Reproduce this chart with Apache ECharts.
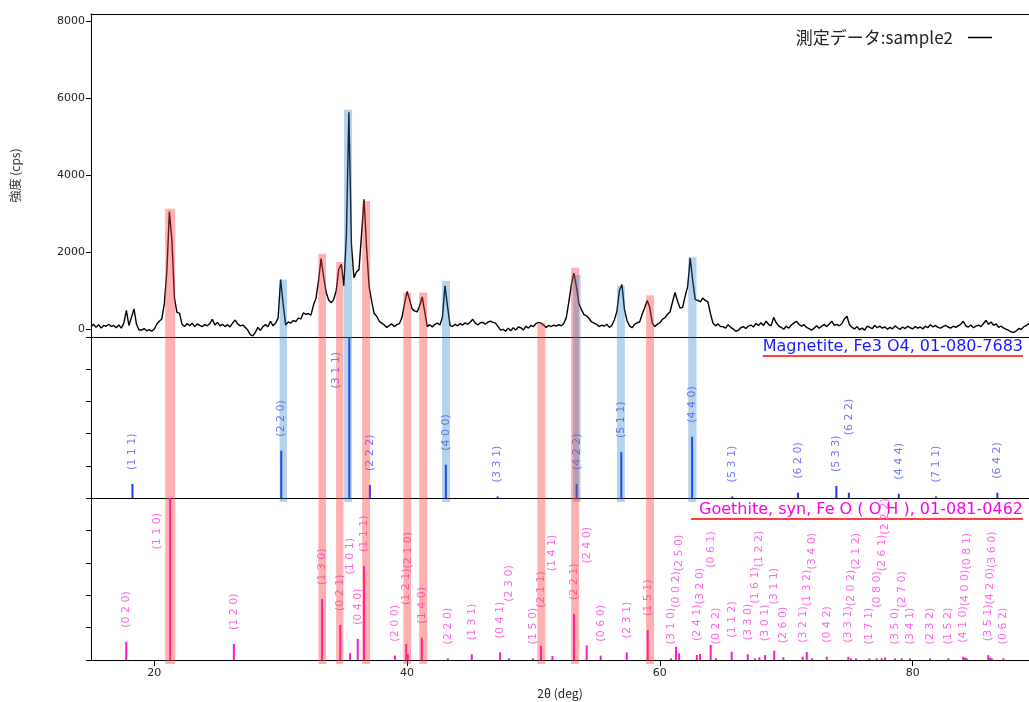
<!DOCTYPE html>
<html><head><meta charset="utf-8">
<script src="https://cdn.jsdelivr.net/npm/echarts@6/dist/echarts.min.js"></script>
<style>html,body{margin:0;padding:0;background:#fff}#c{width:1029px;height:702px}</style>
</head><body><div id="c"></div>
<script>
// ---------- DATA ----------
const scanStart = 15.0;   // 2θ of first point (deg)
const scanStep = 0.2;     // 2θ step (deg)
const intensity = [
  60,120,40,110,20,90,70,120,60,90,
  30,100,20,150,480,90,300,520,120,-30,
  -30,10,-50,-20,-60,-10,120,200,260,650,
  1500,3050,2300,800,430,410,120,60,140,80,
  150,60,130,90,60,110,80,140,250,100,
  170,80,120,60,110,50,150,230,130,80,
  100,40,-30,-150,-180,-90,40,-40,60,110,
  60,200,80,150,280,1280,650,100,180,150,
  220,190,280,260,420,380,400,360,620,800,
  1250,1830,1350,950,750,680,760,1000,1550,1680,
  1120,2400,5630,2200,1330,1480,1540,2450,3370,2100,
  1100,720,400,330,200,150,100,40,90,130,
  60,110,140,300,650,970,760,520,470,440,
  600,830,450,60,110,50,120,150,100,300,
  1120,600,90,60,120,80,140,100,160,120,
  180,250,150,100,160,170,120,180,200,170,
  150,60,-30,-10,-60,20,-50,30,-30,50,
  30,-30,70,20,90,60,140,170,150,100,
  40,90,60,100,70,110,80,140,300,700,
  1150,1450,1100,650,500,370,340,270,180,150,
  120,60,100,70,120,40,90,240,450,1000,
  1150,500,220,80,30,120,160,180,380,550,
  740,560,150,60,120,160,250,290,380,440,
  700,950,720,540,560,850,1100,1840,1250,760,
  740,700,800,740,700,400,150,80,130,60,
  60,20,110,40,0,-60,-40,30,60,10,
  70,100,50,140,90,160,90,200,120,80,
  300,160,80,40,-10,70,20,100,150,200,
  120,70,110,40,10,-30,20,80,20,70,
  110,60,130,200,90,120,80,140,260,330,
  110,40,0,60,-20,20,-30,70,40,10,
  90,30,70,20,50,-10,40,0,80,30,
  -10,50,10,70,30,0,60,20,50,0,
  70,30,110,50,90,40,20,60,90,50,
  20,70,40,80,120,200,80,50,100,30,
  70,100,60,140,220,120,180,90,130,40,
  70,20,-10,-40,-80,-90,-50,10,-10,60,
  90,140
];

const magnetite2Theta = [18.28,30.05,35.43,37.06,43.07,47.16,53.42,56.95,62.55,65.73,70.93,73.96,74.95,78.9,81.85,86.7];
const magnetiteI      = [8.7,29.4,100,8,20.7,1,8.7,28.6,38,1,3.3,7.5,3.3,2.7,1,3.3];
const magnetiteHkl    = ['111','220','311','222','400','331','422','511','440','531','620','533','622','444','711','642'];

const goethite2Theta = [17.79,21.26,26.3,33.28,34.72,35.5,36.1,36.6,39.05,39.93,40.06,41.17,43.23,45.12,47.36,48.07,49.95,50.6,51.5,53.21,54.21,55.32,57.38,59.04,
  60.88,61.28,61.52,62.92,63.18,64.02,64.44,65.68,66.95,67.53,67.87,68.32,69.05,69.77,71.3,71.62,72.04,73.2,74.91,75.12,75.52,76.57,77.15,77.55,77.81,78.6,79.13,79.79,81.37,82.82,84.0,84.15,84.28,85.98,86.11,86.25,87.17];
const goethiteI = [11.3,100,9.9,37.6,21.6,4.3,13,58,2.7,9.9,3.7,13.8,1,3.5,4.7,1,1,8.8,2.5,28.4,9,2.7,4.7,18.5,
  1,8.2,4.1,3.1,3.7,9.3,1,5.1,3.5,1,1.7,3,5.8,1.7,2,5,1,2,2,1,1,1,1,1,1.5,1,1,1,1,1,2,1.5,1,3,1.5,1,1];
const goethiteHkl = ['020','110','120','130','021','101','040','111','200','121','210','140','220','131','041','230','150','211','141','221','240','060','231','151',
  '310','002','250','241','320','061','022','112','330','161','122','301','311','260','321','132','340','042','331','202','212','171','080','261','222','350','270','341','232','152','410','400','081','351','420','360','062'];

// highlighted peak regions: [2θ from, 2θ to, top (cps)]
const goethiteBands  = [[20.87,21.66,3120],[32.99,33.6,1950],[34.39,34.97,1740],[36.45,37.08,3320],[39.71,40.32,945],[40.96,41.59,945],[50.31,50.94,160],[52.98,53.61,1590],[58.91,59.54,870]];
const magnetiteBands = [[29.92,30.5,1280],[35.02,35.65,5690],[42.77,43.4,1250],[53.15,53.73,1400],[56.6,57.23,1120],[62.24,62.9,1860]];

const yTickValues = [0,2000,4000,6000,8000];
const xTickValues = [20,40,60,80];
const seriesName = '測定データ:sample2';
const magnetiteCaption = 'Magnetite, Fe3 O4, 01-080-7683';
const goethiteCaption  = 'Goethite, syn, Fe O ( O H ), 01-081-0462';

// ---------- STYLE ----------
const LABEL_FONT_SIZE = 11, LABEL_FONT_FAMILY = 'DejaVu Sans';
const LABEL_GAP = 14, LABEL_TOP_MARGIN = 15, LABEL_SIDE_SHIFT = 13, LABEL_COLLIDE = 13.5;
const RED_BAND = 'rgba(255,60,60,0.40)', BLUE_BAND = 'rgba(30,120,195,0.33)';

const mctx = document.createElement('canvas').getContext('2d');
function measure(text, size, family) { mctx.font = size + 'px "' + family + '"'; return mctx.measureText(text).width; }

function placeLabels(api, cs, xs, hs, hkls) {
  const placed = [];
  for (let i = 0; i < xs.length; i++) {
    const text = '(' + hkls[i].split('').join(' ') + ')';
    const len = measure(text, LABEL_FONT_SIZE, LABEL_FONT_FAMILY);
    const p = api.coord([xs[i], hs[i]]);
    let cx = p[0], bottom = p[1] - LABEL_GAP, top = bottom - len;
    if (top < cs.y + LABEL_TOP_MARGIN) { cx = p[0] - LABEL_SIDE_SHIFT; top = cs.y + LABEL_TOP_MARGIN; bottom = top + len; }
    let moved = true, guard = 0;
    while (moved && guard++ < 200) {
      moved = false;
      for (const q of placed) {
        if (Math.abs(q.cx - cx) < LABEL_COLLIDE && top < q.bottom - 0.5 && bottom > q.top + 0.5) {
          bottom = q.top; top = bottom - len; moved = true;
        }
      }
    }
    placed.push({cx, top, bottom, text});
  }
  return placed;
}

function stickSeries(name, xs, hs, hkls, barColor, textColor, xi, yi) {
  let layout = null;
  return {
    type: 'custom', name, xAxisIndex: xi, yAxisIndex: yi, clip: false, z: 3, silent: true,
    data: xs.map((t, i) => [t, hs[i]]),
    encode: {x: 0, y: 1},
    renderItem(params, api) {
      const i = params.dataIndex;
      if (i === 0 || !layout) layout = placeLabels(api, params.coordSys, xs, hs, hkls);
      const p = api.coord([api.value(0), api.value(1)]);
      const b = api.coord([api.value(0), 0]);
      const L = layout[i];
      return {type: 'group', children: [
        {type: 'rect', shape: {x: p[0] - 1, y: p[1], width: 2, height: b[1] - p[1]}, style: {fill: barColor}},
        {type: 'text', x: L.cx, y: (L.top + L.bottom) / 2, rotation: Math.PI / 2,
          style: {text: L.text, fill: textColor, fontSize: LABEL_FONT_SIZE, fontFamily: LABEL_FONT_FAMILY, align: 'center', verticalAlign: 'middle'}}
      ]};
    }
  };
}

function bandSeries(bands, color, xi, yi, fromPeak, overshoot) {
  return {
    type: 'custom', xAxisIndex: xi, yAxisIndex: yi, clip: false, z: 5, silent: true,
    data: bands, encode: {x: [0, 1], y: 2},
    renderItem(params, api) {
      const cs = params.coordSys;
      const x0 = api.coord([api.value(0), 0])[0], x1 = api.coord([api.value(1), 0])[0];
      const y0 = fromPeak ? api.coord([api.value(0), api.value(2)])[1] : cs.y;
      const y1 = cs.y + cs.height + overshoot;
      return {type: 'rect', shape: {x: x0, y: y0, width: x1 - x0, height: y1 - y0}, style: {fill: color}};
    }
  };
}

const chart = echarts.init(document.getElementById('c'), null, {renderer: 'canvas'});
const AX = {color: '#000', width: 1};
const noSplit = {show: false};
const plain = v => String(v);

const capFont = 16, capFamily = 'DejaVu Sans', capRight = 1023;
const magW = measure(magnetiteCaption, capFont, capFamily);
const goeW = measure(goethiteCaption, capFont, capFamily);

const option = {
  animation: false,
  backgroundColor: '#fff',
  grid: [
    {left: 91, right: 0, top: 14, height: 323},
    {left: 91, right: 0, top: 337, height: 161},
    {left: 91, right: 0, top: 498, height: 162}
  ],
  xAxis: [
    {gridIndex: 0, type: 'value', min: 15, max: 89.2, position: 'bottom', axisLine: {show: true, onZero: false, lineStyle: AX}, axisTick: {show: false}, axisLabel: {show: false}, splitLine: noSplit},
    {gridIndex: 0, type: 'value', min: 15, max: 89.2, position: 'top', axisLine: {show: true, onZero: false, lineStyle: AX}, axisTick: {show: false}, axisLabel: {show: false}, splitLine: noSplit},
    {gridIndex: 1, type: 'value', min: 15, max: 89.2, position: 'bottom', axisLine: {show: true, onZero: false, lineStyle: AX}, axisTick: {show: false}, axisLabel: {show: false}, splitLine: noSplit},
    {gridIndex: 2, type: 'value', min: 15, max: 89.2, position: 'bottom', axisLine: {show: true, onZero: false, lineStyle: AX},
      axisTick: {show: true, length: 6, lineStyle: AX, customValues: xTickValues},
      axisLabel: {show: true, customValues: xTickValues, formatter: plain, margin: 8, color: '#222', fontSize: 11, fontFamily: 'DejaVu Sans'},
      splitLine: noSplit,
      name: '2θ (deg)', nameLocation: 'middle', nameGap: 27,
      nameTextStyle: {color: '#222', fontSize: 12, fontFamily: 'Noto Sans CJK JP'}}
  ],
  yAxis: [
    {gridIndex: 0, type: 'value', min: -210, max: 8180, axisLine: {show: true, onZero: false, lineStyle: AX},
      axisTick: {show: true, length: 5, lineStyle: AX, customValues: yTickValues},
      axisLabel: {show: true, customValues: yTickValues, formatter: plain, margin: 6, color: '#222', fontSize: 11, fontFamily: 'DejaVu Sans'},
      splitLine: noSplit,
      name: '強度 (cps)', nameLocation: 'middle', nameGap: 70,
      nameTextStyle: {color: '#333', fontSize: 12, fontFamily: 'Noto Sans CJK JP'}},
    {gridIndex: 1, type: 'value', min: 0, max: 100, interval: 20, axisLine: {show: true, onZero: false, lineStyle: AX},
      axisTick: {show: true, length: 5, lineStyle: AX}, axisLabel: {show: false}, splitLine: noSplit},
    {gridIndex: 2, type: 'value', min: 0, max: 100, interval: 20, axisLine: {show: true, onZero: false, lineStyle: AX},
      axisTick: {show: true, length: 5, lineStyle: AX}, axisLabel: {show: false}, splitLine: noSplit}
  ],
  legend: {
    data: [seriesName], right: 32, top: 24, align: 'right', icon: 'rect', itemWidth: 24, itemHeight: 1.5,
    textStyle: {fontFamily: 'Noto Sans CJK JP', fontSize: 17, color: '#222', padding: [0, 10, 0, 0]}
  },
  graphic: [
    {type: 'text', x: capRight, y: 347, style: {text: magnetiteCaption, fill: '#1a1aff', fontSize: capFont, fontFamily: capFamily, align: 'right', verticalAlign: 'middle'}},
    {type: 'line', shape: {x1: capRight - magW, y1: 356, x2: capRight, y2: 356}, style: {stroke: '#ff0000', lineWidth: 1.5}},
    {type: 'text', x: capRight, y: 510, style: {text: goethiteCaption, fill: '#ff00e6', fontSize: capFont, fontFamily: capFamily, align: 'right', verticalAlign: 'middle'}},
    {type: 'line', shape: {x1: capRight - goeW - 8, y1: 519, x2: capRight, y2: 519}, style: {stroke: '#ff0000', lineWidth: 1.5}}
  ],
  series: [
    {name: seriesName, type: 'line', xAxisIndex: 0, yAxisIndex: 0, showSymbol: false, symbol: 'none', z: 2,
      color: '#000', lineStyle: {color: '#000', width: 1.4}, itemStyle: {color: '#000'},
      data: intensity.map((v, i) => [scanStart + i * scanStep, v])},
    stickSeries('Magnetite', magnetite2Theta, magnetiteI, magnetiteHkl, '#2238ee', '#7575ff', 2, 1),
    stickSeries('Goethite', goethite2Theta, goethiteI, goethiteHkl, '#ff14c8', '#ff66e6', 3, 2),
    bandSeries(goethiteBands, RED_BAND, 0, 0, true, 0),
    bandSeries(magnetiteBands, BLUE_BAND, 0, 0, true, 0),
    bandSeries(goethiteBands, RED_BAND, 2, 1, false, 0),
    bandSeries(magnetiteBands, BLUE_BAND, 2, 1, false, 4),
    bandSeries(goethiteBands, RED_BAND, 3, 2, false, 4)
  ]
};
chart.setOption(option);
</script>
</body></html>
